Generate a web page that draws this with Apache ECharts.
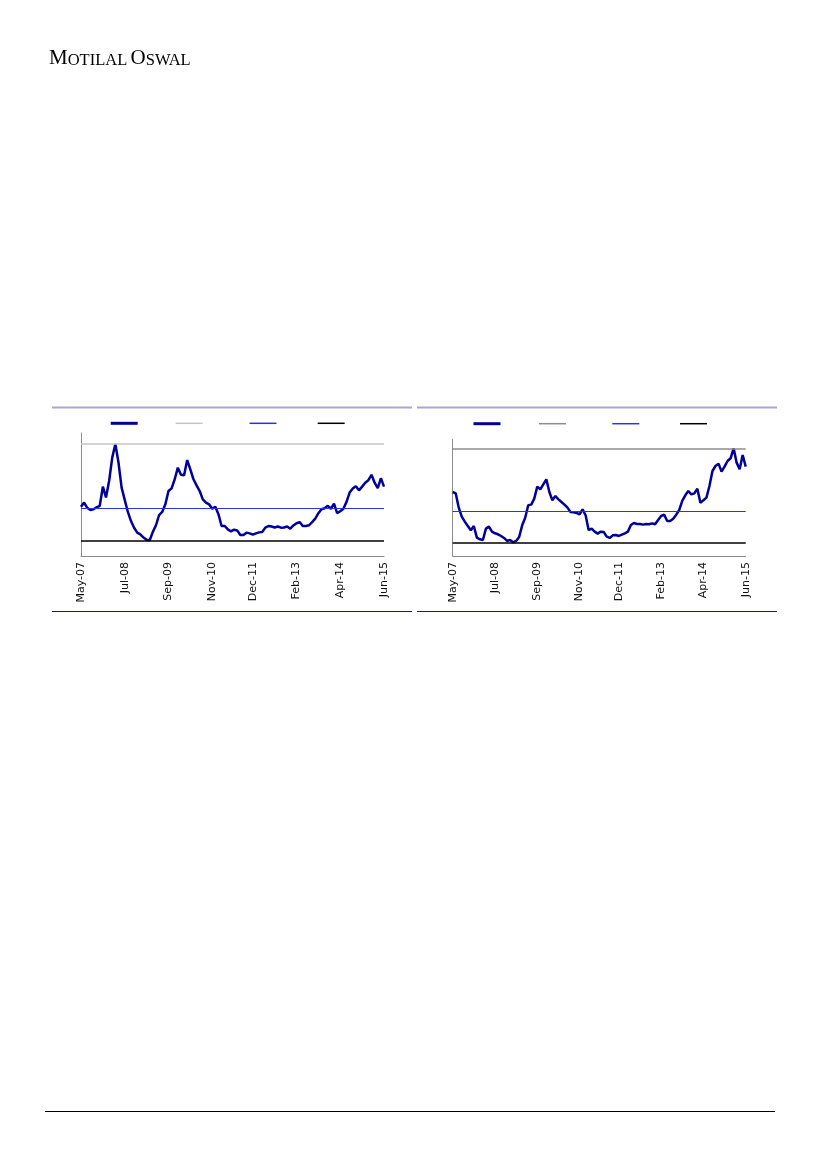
<!DOCTYPE html>
<html>
<head>
<meta charset="utf-8">
<script src="https://cdn.jsdelivr.net/npm/echarts@6/dist/echarts.min.js"></script>
<style>
html,body{margin:0;padding:0;background:#fff;}
#c{width:827px;height:1169px;}
</style>
</head>
<body>
<div id="c"></div>
<script>
// ---------- DATA ----------
const tickLabels = ['May-07','Jul-08','Sep-09','Nov-10','Dec-11','Feb-13','Apr-14','Jun-15'];

// left chart monthly values (May-07 .. Jun-15)
const seriesLeft = [
  15.0,15.85,14.8,14.35,14.5,14.9,15.2,19.1,16.9,20.25,
  25.0,27.77,24.0,18.9,16.4,13.95,12.1,10.75,9.75,9.4,
  8.75,8.3,8.19,9.9,11.25,13.3,13.95,15.5,18.2,18.75,
  20.6,22.95,21.5,21.4,24.5,22.6,20.6,19.35,18.2,16.5,
  15.85,15.5,14.6,15.0,13.5,11.1,11.1,10.4,10.0,
  10.35,10.2,9.27,9.27,9.75,9.6,9.35,9.6,9.8,9.9,
  10.75,11.1,11.0,10.8,11.0,10.75,10.8,11.0,10.55,11.2,
  11.65,11.9,11.1,11.1,11.25,11.9,12.6,13.7,14.5,14.7,
  15.2,14.6,15.65,13.7,14.1,14.6,16.0,17.9,18.7,19.2,
  18.35,19.1,19.9,20.4,21.5,19.9,18.8,20.8,19.1
];

// right chart monthly values (May-07 .. Jun-15)
const seriesRight = [
  18.71,18.43,15.36,13.43,12.36,11.43,10.5,11.43,8.93,8.58,
  8.43,10.86,11.29,10.22,9.86,9.65,9.29,8.86,8.22,8.43,
  7.94,8.22,9.08,11.57,13.2,15.86,16.0,17.29,19.86,19.29,
  20.36,21.43,18.71,16.93,17.86,17.14,16.57,16.0,15.36,14.43,
  14.36,14.22,13.93,15.0,13.72,10.57,10.86,10.22,9.79,10.22,
  10.15,9.15,8.86,9.43,9.5,9.29,9.57,9.86,10.22,11.65,
  12.08,11.86,11.86,11.72,11.86,11.79,12.0,11.79,12.72,13.57,
  13.86,12.5,12.5,13.0,13.86,14.86,16.79,18.0,18.93,18.21,
  18.43,19.43,16.43,16.93,17.5,20.0,23.21,24.28,24.78,23.07,
  24.14,25.35,25.93,28.07,25.0,23.57,26.64,24.14
];

const MONTH_ABBR = ['Jan','Feb','Mar','Apr','May','Jun','Jul','Aug','Sep','Oct','Nov','Dec'];
const months = [];
for (let i = 0; i < seriesLeft.length; i++) {
  const t = 2007 * 12 + 4 + i;
  months.push(MONTH_ABBR[t % 12] + '-' + String(Math.floor(t / 12)).slice(2));
}

// statistics shown as reference lines
const stats = arr => ({
  max: Math.max(...arr),
  min: Math.min(...arr),
  avg: arr.reduce((a, b) => a + b, 0) / arr.length
});
const sL = stats(seriesLeft);
const sR = stats(seriesRight);

// ---------- STYLE ----------
const NAVY = '#000099';
const AVG_BLUE = '#2f2ff0';
const AXIS_GRAY = '#8c8c8c';

function xAxisDef(gi) {
  return {
    type: 'category', gridIndex: gi, data: months, boundaryGap: false,
    axisLine: { show: true, lineStyle: { color: AXIS_GRAY, width: 1 } },
    axisTick: { show: false },
    splitLine: { show: false },
    axisLabel: {
      interval: (i, v) => tickLabels.includes(v),
      rotate: 90, margin: 6,
      fontFamily: 'DejaVu Sans', fontSize: 11, color: '#111'
    }
  };
}
function yAxisDef(gi) {
  return {
    type: 'value', gridIndex: gi, min: 5, max: 30,
    axisLine: { show: true, lineStyle: { color: AXIS_GRAY, width: 1 } },
    axisTick: { show: false }, axisLabel: { show: false }, splitLine: { show: false }
  };
}
function refLine(name, gi, value, color, width) {
  return {
    name, type: 'line', xAxisIndex: gi, yAxisIndex: gi, data: [],
    color, itemStyle: { color }, lineStyle: { color, width },
    markLine: {
      silent: true, symbol: 'none', label: { show: false }, animation: false,
      lineStyle: { color, width, type: 'solid' },
      emphasis: { disabled: true },
      data: [{ yAxis: value }]
    }
  };
}
function mainLine(name, gi, data) {
  return {
    name, type: 'line', xAxisIndex: gi, yAxisIndex: gi, data,
    showSymbol: false, symbol: 'none', color: NAVY, itemStyle: { color: NAVY },
    lineStyle: { color: NAVY, width: 2.5 }
  };
}
function leg(name, left, cy, h, color) {
  return {
    data: [name], left, top: cy - h / 2, padding: 0, itemGap: 0,
    itemWidth: 27, itemHeight: h, icon: 'rect', selectedMode: false,
    itemStyle: { color }, formatter: () => '', textStyle: { fontSize: 1 }
  };
}

const chart = echarts.init(document.getElementById('c'), null, { renderer: 'canvas' });
chart.setOption({
  animation: false,
  backgroundColor: '#ffffff',
  grid: [
    { left: 81, top: 433, width: 303, height: 123 },
    { left: 452.7, top: 439.3, width: 293, height: 116.7 }
  ],
  xAxis: [xAxisDef(0), xAxisDef(1)],
  yAxis: [yAxisDef(0), yAxisDef(1)],
  legend: [
    leg('Series L', 110.7, 423.3, 3, NAVY),
    leg('Max L', 175.7, 423.3, 1.5, '#c4c4c4'),
    leg('Avg L', 249.5, 423.3, 1.5, AVG_BLUE),
    leg('Min L', 317.7, 423.3, 1.5, '#000000'),
    leg('Series R', 473.5, 423.7, 3, NAVY),
    leg('Max R', 539, 423.7, 1.5, '#8c8c8c'),
    leg('Avg R', 612.3, 423.7, 1.5, AVG_BLUE),
    leg('Min R', 680, 423.7, 1.5, '#000000')
  ],
  series: [
    refLine('Max L', 0, sL.max, '#c4c4c4', 1.5),
    refLine('Avg L', 0, sL.avg, AVG_BLUE, 1),
    refLine('Min L', 0, sL.min, '#000000', 1.5),
    mainLine('Series L', 0, seriesLeft),
    refLine('Max R', 1, sR.max, '#8c8c8c', 1.5),
    refLine('Avg R', 1, sR.avg, AVG_BLUE, 1),
    refLine('Min R', 1, sR.min, '#000000', 1.5),
    mainLine('Series R', 1, seriesRight)
  ],
  graphic: [
    {
      type: 'text', left: 49, top: 48,
      style: {
        text: '{a|M}{b|OTILAL} {a|O}{b|SWAL}',
        fill: '#000',
        rich: {
          a: { fontFamily: 'Liberation Serif', fontSize: 21, lineHeight: 21, verticalAlign: 'bottom', fill: '#000' },
          b: { fontFamily: 'Liberation Serif', fontSize: 16.5, lineHeight: 16.5, verticalAlign: 'bottom', fill: '#000' }
        }
      }
    },
    { type: 'line', shape: { x1: 52, y1: 407.5, x2: 412, y2: 407.5 }, style: { stroke: '#aaa6d8', lineWidth: 2 } },
    { type: 'line', shape: { x1: 417, y1: 407.5, x2: 777, y2: 407.5 }, style: { stroke: '#aaa6d8', lineWidth: 2 } },
    { type: 'line', shape: { x1: 52, y1: 611.5, x2: 412, y2: 611.5 }, style: { stroke: '#1c1c66', lineWidth: 1 } },
    { type: 'line', shape: { x1: 417, y1: 611.5, x2: 777, y2: 611.5 }, style: { stroke: '#1c1c66', lineWidth: 1 } },
    { type: 'line', shape: { x1: 45, y1: 1111.5, x2: 775, y2: 1111.5 }, style: { stroke: '#000', lineWidth: 1 } }
  ]
});
</script>
</body>
</html>
